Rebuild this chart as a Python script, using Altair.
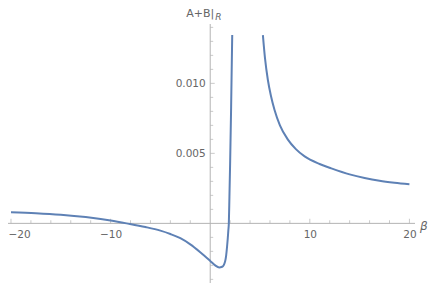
import altair as alt
import pandas as pd

# ---- data ----
left_x = [-20, -17.5, -15, -12.5, -11, -10, -8.4, -6.5, -5, -4, -3, -2, -1, 0, 0.5, 0.9, 1.2, 1.5, 1.6, 1.7, 1.76,
          1.82, 1.87, 1.93, 2.0, 2.1, 2.21]
left_y = [0.0008, 0.00073, 0.00062, 0.00045, 0.00031, 0.0002, 0.0, -0.00026, -0.00052, -0.00076, -0.00106,
          -0.0015, -0.00206, -0.00268, -0.003, -0.00315, -0.0031, -0.0027, -0.0023, -0.0016, -0.0011,
          -0.0005, 0.0, 0.0019, 0.0043, 0.0083, 0.01345]
right_x = [5.29, 5.5, 5.79, 6.1, 6.46, 7.0, 7.8, 8.6, 9.48, 10.98, 12.16, 14.0, 15.5, 17.0, 18.5, 20]
right_y = [0.01345, 0.0118, 0.01024, 0.0091, 0.0081, 0.0070, 0.00598, 0.0053, 0.00478, 0.00424, 0.00393,
           0.0035, 0.00324, 0.00304, 0.0029, 0.00279]

x_major = [-20, -10, 10, 20]
x_minor = [-18, -16, -14, -12, -8, -6, -4, -2, 2, 4, 6, 8, 12, 14, 16, 18]
y_major = [0.005, 0.010]
y_minor = [-0.004, -0.003, -0.002, -0.001, 0.001, 0.002, 0.003, 0.004, 0.006, 0.007, 0.008, 0.009,
           0.011, 0.012, 0.013, 0.014]

x_title = "β"
y_title_main = "A+B|"
y_title_sub = "R"

# ---- layout ----
W, H = 407, 259
XMIN, XMAX = -20.30, 20.56
YMIN, YMAX = -0.00426, 0.01424
x0_px = (0 - XMIN) / (XMAX - XMIN) * W
y0_px = (YMAX - 0) / (YMAX - YMIN) * H

AXIS_GRAY = "#b3b3b3"
LABEL_GRAY = "#666666"
BLUE = "#5E81B5"
FONT = "DejaVu Sans"

curve = pd.DataFrame({
    "x": left_x + right_x,
    "y": left_y + right_y,
    "seg": ["a"] * len(left_x) + ["b"] * len(right_x),
    "order": list(range(len(left_x))) + list(range(len(right_x))),
})

xs = alt.Scale(domain=[XMIN, XMAX], nice=False, zero=False)
ys = alt.Scale(domain=[YMIN, YMAX], nice=False, zero=False)

line = alt.Chart(curve).mark_line(color=BLUE, strokeWidth=2, interpolate="monotone", clip=True).encode(
    x=alt.X("x:Q", scale=xs, axis=alt.Axis(
        values=x_major, domain=False, ticks=False, tickSize=0, grid=False, title=None,
        labelColor=LABEL_GRAY, labelFont=FONT, labelFontSize=10.5, labelPadding=6,
        offset=-(H - y0_px), labelFlush=4, labelFlushOffset=3)),
    y=alt.Y("y:Q", scale=ys, axis=alt.Axis(
        values=y_major, format=".3f", domain=False, ticks=False, tickSize=0, grid=False, title=None,
        labelColor=LABEL_GRAY, labelFont=FONT, labelFontSize=10.5, labelPadding=5,
        offset=-x0_px)),
    detail="seg:N",
    order="order:Q",
)

xaxis_line = alt.Chart(pd.DataFrame({"v": [0]})).mark_rule(color=AXIS_GRAY, strokeWidth=1).encode(
    y=alt.Y("v:Q", scale=ys))
yaxis_line = alt.Chart(pd.DataFrame({"v": [0]})).mark_rule(color=AXIS_GRAY, strokeWidth=1).encode(
    x=alt.X("v:Q", scale=xs))

xmaj = alt.Chart(pd.DataFrame({"t": x_major, "z": [0] * len(x_major)})).mark_tick(
    orient="vertical", color=AXIS_GRAY, thickness=1, size=4.5, yOffset=-2.25).encode(
    x=alt.X("t:Q", scale=xs), y=alt.Y("z:Q", scale=ys))
xmin_t = alt.Chart(pd.DataFrame({"t": x_minor, "z": [0] * len(x_minor)})).mark_tick(
    orient="vertical", color=AXIS_GRAY, thickness=1, size=3, yOffset=-1.5).encode(
    x=alt.X("t:Q", scale=xs), y=alt.Y("z:Q", scale=ys))
ymaj = alt.Chart(pd.DataFrame({"t": y_major, "z": [0] * len(y_major)})).mark_tick(
    orient="horizontal", color=AXIS_GRAY, thickness=1, size=4.5, xOffset=2.25).encode(
    y=alt.Y("t:Q", scale=ys), x=alt.X("z:Q", scale=xs))
ymin_t = alt.Chart(pd.DataFrame({"t": y_minor, "z": [0] * len(y_minor)})).mark_tick(
    orient="horizontal", color=AXIS_GRAY, thickness=1, size=3, xOffset=1.5).encode(
    y=alt.Y("t:Q", scale=ys), x=alt.X("z:Q", scale=xs))

title_df = pd.DataFrame({"a": [0]})
xt = alt.Chart(title_df).mark_text(font=FONT, fontSize=12, fontStyle="italic", color=LABEL_GRAY,
                                   align="left", baseline="middle").encode(
    x=alt.value(W + 5), y=alt.value(y0_px + 3), text=alt.value(x_title))
yt1 = alt.Chart(title_df).mark_text(font=FONT, fontSize=11, color=LABEL_GRAY,
                                    align="right", baseline="alphabetic").encode(
    x=alt.value(x0_px + 4), y=alt.value(-7.5), text=alt.value(y_title_main))
yt2 = alt.Chart(title_df).mark_text(font=FONT, fontSize=9, fontStyle="italic", color=LABEL_GRAY,
                                    align="left", baseline="alphabetic").encode(
    x=alt.value(x0_px + 5), y=alt.value(-4.5), text=alt.value(y_title_sub))

chart = alt.layer(xaxis_line, yaxis_line, xmin_t, xmaj, ymin_t, ymaj, line, xt, yt1, yt2).properties(
    width=W, height=H,
    padding={"left": 0, "top": 16, "right": 13, "bottom": 0},
    autosize=alt.AutoSizeParams(type="none"),
).configure_view(stroke=None)

chart.save("out.html", embed_options={"renderer": "svg", "actions": False})
